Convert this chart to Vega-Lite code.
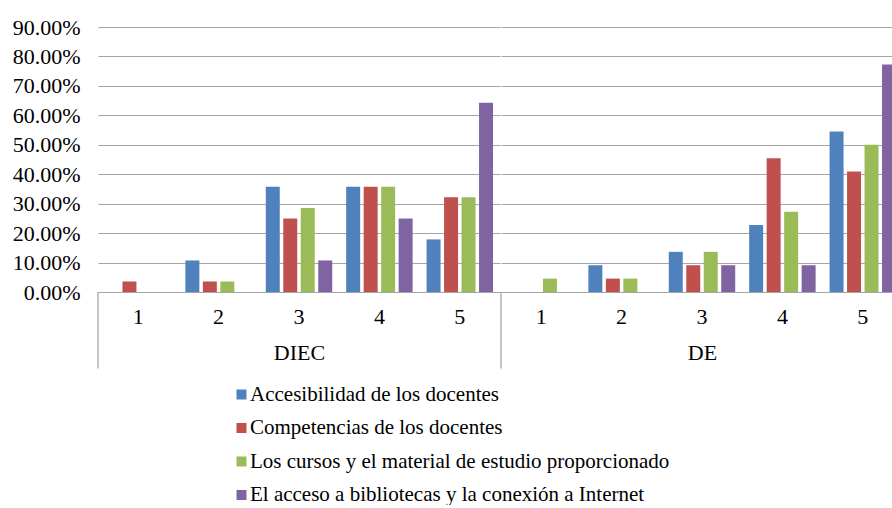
{
  "$schema": "https://vega.github.io/schema/vega-lite/v6.json",
  "padding": {"left": 12, "top": 16, "right": 0, "bottom": 0},
  "datasets": {
    "d": [
      {"g": "DIEC", "c": "1", "s": "Accesibilidad de los docentes", "v": 0},
      {"g": "DIEC", "c": "1", "s": "Competencias de los docentes", "v": 0.0357},
      {"g": "DIEC", "c": "1", "s": "Los cursos y el material de estudio proporcionado", "v": 0},
      {"g": "DIEC", "c": "1", "s": "El acceso a bibliotecas y la conexión a Internet", "v": 0},
      {"g": "DIEC", "c": "2", "s": "Accesibilidad de los docentes", "v": 0.1071},
      {"g": "DIEC", "c": "2", "s": "Competencias de los docentes", "v": 0.0357},
      {"g": "DIEC", "c": "2", "s": "Los cursos y el material de estudio proporcionado", "v": 0.0357},
      {"g": "DIEC", "c": "2", "s": "El acceso a bibliotecas y la conexión a Internet", "v": 0},
      {"g": "DIEC", "c": "3", "s": "Accesibilidad de los docentes", "v": 0.3571},
      {"g": "DIEC", "c": "3", "s": "Competencias de los docentes", "v": 0.25},
      {"g": "DIEC", "c": "3", "s": "Los cursos y el material de estudio proporcionado", "v": 0.2857},
      {"g": "DIEC", "c": "3", "s": "El acceso a bibliotecas y la conexión a Internet", "v": 0.1071},
      {"g": "DIEC", "c": "4", "s": "Accesibilidad de los docentes", "v": 0.3571},
      {"g": "DIEC", "c": "4", "s": "Competencias de los docentes", "v": 0.3571},
      {"g": "DIEC", "c": "4", "s": "Los cursos y el material de estudio proporcionado", "v": 0.3571},
      {"g": "DIEC", "c": "4", "s": "El acceso a bibliotecas y la conexión a Internet", "v": 0.25},
      {"g": "DIEC", "c": "5", "s": "Accesibilidad de los docentes", "v": 0.1786},
      {"g": "DIEC", "c": "5", "s": "Competencias de los docentes", "v": 0.3214},
      {"g": "DIEC", "c": "5", "s": "Los cursos y el material de estudio proporcionado", "v": 0.3214},
      {"g": "DIEC", "c": "5", "s": "El acceso a bibliotecas y la conexión a Internet", "v": 0.6429},
      {"g": "DE", "c": "1", "s": "Accesibilidad de los docentes", "v": 0},
      {"g": "DE", "c": "1", "s": "Competencias de los docentes", "v": 0},
      {"g": "DE", "c": "1", "s": "Los cursos y el material de estudio proporcionado", "v": 0.0455},
      {"g": "DE", "c": "1", "s": "El acceso a bibliotecas y la conexión a Internet", "v": 0},
      {"g": "DE", "c": "2", "s": "Accesibilidad de los docentes", "v": 0.0909},
      {"g": "DE", "c": "2", "s": "Competencias de los docentes", "v": 0.0455},
      {"g": "DE", "c": "2", "s": "Los cursos y el material de estudio proporcionado", "v": 0.0455},
      {"g": "DE", "c": "2", "s": "El acceso a bibliotecas y la conexión a Internet", "v": 0},
      {"g": "DE", "c": "3", "s": "Accesibilidad de los docentes", "v": 0.1364},
      {"g": "DE", "c": "3", "s": "Competencias de los docentes", "v": 0.0909},
      {"g": "DE", "c": "3", "s": "Los cursos y el material de estudio proporcionado", "v": 0.1364},
      {"g": "DE", "c": "3", "s": "El acceso a bibliotecas y la conexión a Internet", "v": 0.0909},
      {"g": "DE", "c": "4", "s": "Accesibilidad de los docentes", "v": 0.2273},
      {"g": "DE", "c": "4", "s": "Competencias de los docentes", "v": 0.4545},
      {"g": "DE", "c": "4", "s": "Los cursos y el material de estudio proporcionado", "v": 0.2727},
      {"g": "DE", "c": "4", "s": "El acceso a bibliotecas y la conexión a Internet", "v": 0.0909},
      {"g": "DE", "c": "5", "s": "Accesibilidad de los docentes", "v": 0.5455},
      {"g": "DE", "c": "5", "s": "Competencias de los docentes", "v": 0.4091},
      {"g": "DE", "c": "5", "s": "Los cursos y el material de estudio proporcionado", "v": 0.5},
      {"g": "DE", "c": "5", "s": "El acceso a bibliotecas y la conexión a Internet", "v": 0.7727}
    ]
  },
  "spacing": 0,
  "resolve": {"scale": {"x": "independent", "y": "independent", "color": "shared", "xOffset": "independent"}},
  "hconcat": [
    {
      "width": 402,
      "height": 265,
      "layer": [
        {
          "data": {"name": "d"},
          "transform": [{"filter": "datum.g === 'DIEC'"}],
          "mark": {"type": "bar", "clip": true},
          "encoding": {
            "x": {"field": "c", "type": "nominal", "sort": ["1", "2", "3", "4", "5"],
              "scale": {"paddingInner": 0.13, "paddingOuter": 0.065},
              "axis": {"title": "DIEC", "labelAngle": 0, "labelPadding": 14, "titlePadding": 15}},
            "xOffset": {"field": "s", "type": "nominal",
              "sort": ["Accesibilidad de los docentes", "Competencias de los docentes", "Los cursos y el material de estudio proporcionado", "El acceso a bibliotecas y la conexión a Internet"],
              "scale": {"paddingInner": 0.2, "paddingOuter": 0.1}},
            "y": {"field": "v", "type": "quantitative",
              "scale": {"domain": [0, 0.9], "nice": false},
              "axis": {"title": null, "format": ".2%", "values": [0, 0.1, 0.2, 0.3, 0.4, 0.5, 0.6, 0.7, 0.8, 0.9], "tickCount": 10, "labelOverlap": false, "labelPadding": 18, "grid": true}},
            "color": {"field": "s", "type": "nominal",
              "scale": {"domain": ["Accesibilidad de los docentes", "Competencias de los docentes", "Los cursos y el material de estudio proporcionado", "El acceso a bibliotecas y la conexión a Internet"],
                "range": ["#4F81BD", "#C0504D", "#9BBB59", "#8064A2"]},
              "legend": {"title": null, "orient": "none", "legendX": 133, "legendY": 357, "direction": "vertical"}}
          }
        },
        {
          "data": {"values": [{}]},
          "mark": {"type": "rule", "color": "#8c8c8c", "strokeWidth": 1},
          "encoding": {"x": {"value": 0}, "y": {"datum": 0}, "y2": {"datum": -0.26}}
        }
      ]
    },
    {
      "width": 392,
      "height": 265,
      "layer": [
        {
          "data": {"name": "d"},
          "transform": [{"filter": "datum.g === 'DE'"}],
          "mark": {"type": "bar", "clip": true},
          "encoding": {
            "x": {"field": "c", "type": "nominal", "sort": ["1", "2", "3", "4", "5"],
              "scale": {"paddingInner": 0.13, "paddingOuter": 0.065, "range": [0, 402]},
              "axis": {"title": "DE", "labelAngle": 0, "labelPadding": 14, "titlePadding": 15}},
            "xOffset": {"field": "s", "type": "nominal",
              "sort": ["Accesibilidad de los docentes", "Competencias de los docentes", "Los cursos y el material de estudio proporcionado", "El acceso a bibliotecas y la conexión a Internet"],
              "scale": {"paddingInner": 0.2, "paddingOuter": 0.1}},
            "y": {"field": "v", "type": "quantitative",
              "scale": {"domain": [0, 0.9], "nice": false},
              "axis": {"title": null, "labels": false, "values": [0, 0.1, 0.2, 0.3, 0.4, 0.5, 0.6, 0.7, 0.8, 0.9], "tickCount": 10, "labelOverlap": false, "grid": true, "labelPadding": 0}},
            "color": {"field": "s", "type": "nominal"}
          }
        },
        {
          "data": {"values": [{}]},
          "mark": {"type": "rule", "color": "#8c8c8c", "strokeWidth": 1},
          "encoding": {"x": {"value": 0}, "y": {"datum": 0}, "y2": {"datum": -0.26}}
        }
      ]
    }
  ],
  "config": {
    "view": {"stroke": null},
    "font": "Liberation Serif",
    "axis": {
      "labelFont": "Liberation Serif", "labelFontSize": 22, "labelColor": "#000000",
      "titleFont": "Liberation Serif", "titleFontSize": 22, "titleFontWeight": "normal", "titleColor": "#000000",
      "gridColor": "#a6a6a6", "gridWidth": 1, "domain": false, "ticks": false
    },
    "legend": {
      "labelFont": "Liberation Serif", "labelFontSize": 21, "labelColor": "#000000", "labelLimit": 600,
      "symbolType": "square", "symbolSize": 100, "symbolStrokeWidth": 0, "symbolOpacity": 1,
      "rowPadding": 11.5, "labelOffset": -2, "padding": 0
    }
  }
}
